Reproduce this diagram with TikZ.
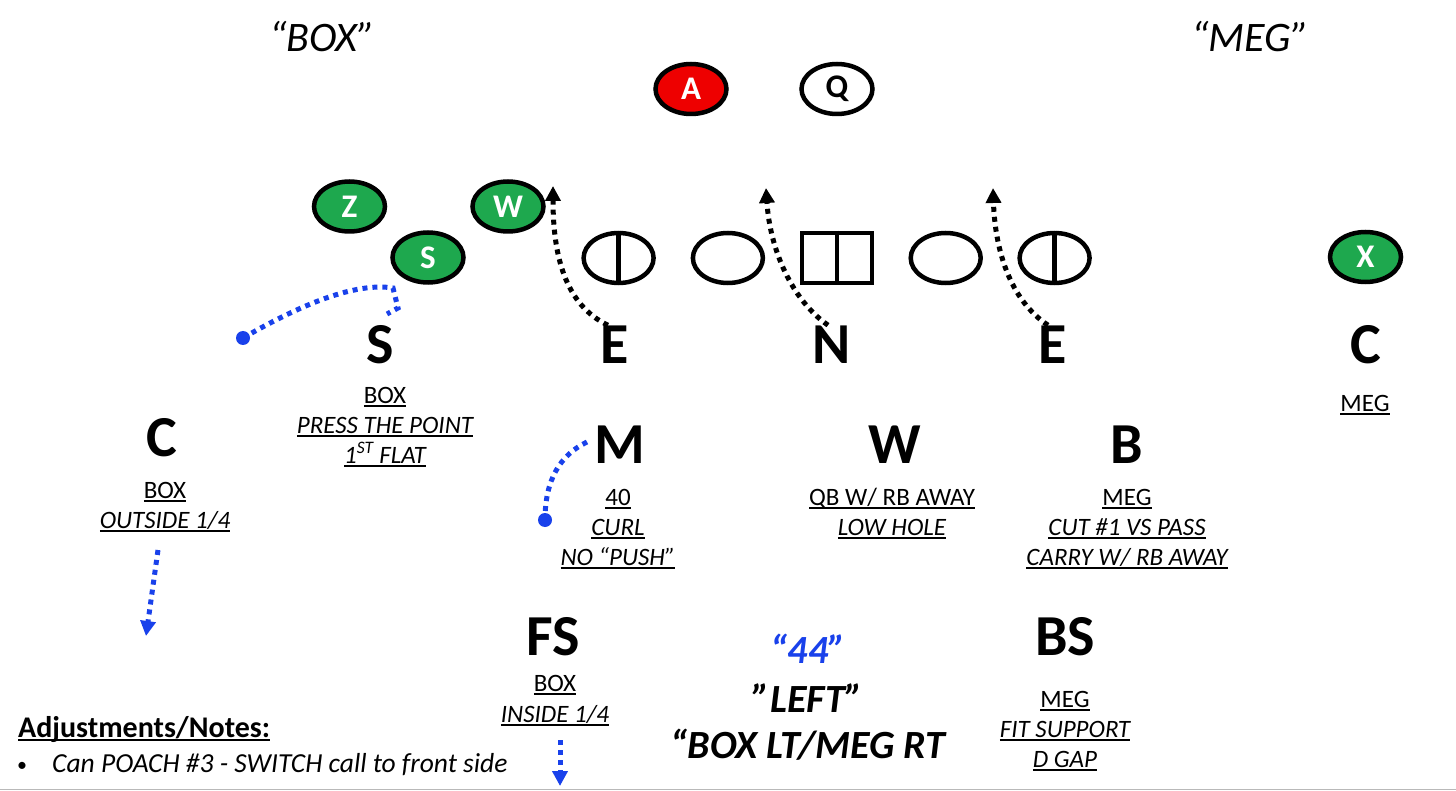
\documentclass[tikz,border=0pt]{standalone}
\usepackage{fontspec}
\setmainfont{Carlito}
\usetikzlibrary{arrows.meta,shapes.geometric}
\definecolor{pgreen}{RGB}{30,168,78}
\definecolor{pred}{RGB}{238,0,0}
\definecolor{pblue}{RGB}{25,65,235}
\newcommand{\ulx}[1]{\setbox0\hbox{#1}\rlap{\rule[-3.5pt]{\wd0}{1.3pt}}\box0}
\tikzset{
  player/.style={ellipse, draw=black, line width=4.5pt, minimum width=71pt, minimum height=50pt, inner sep=0pt, font=\fontsize{33}{33}\selectfont\bfseries, text=white, fill=pgreen},
  olm/.style={ellipse, draw=black, line width=4.5pt, minimum width=70pt, minimum height=50pt, inner sep=0pt},
  olsq/.style={rectangle, draw=black, line width=4.5pt, minimum width=70pt, minimum height=50pt, inner sep=0pt},
  big/.style={font=\fontsize{58}{58}\selectfont\bfseries, inner sep=0pt, anchor=base},
  lbl/.style={font=\fontsize{25}{25}\selectfont, inner sep=0pt, anchor=base},
  title/.style={font=\fontsize{42}{42}\selectfont\itshape, inner sep=0pt, anchor=base},
  call/.style={font=\fontsize{40}{40}\selectfont\bfseries\itshape, inner sep=0pt, anchor=base},
  droute/.style={line width=5pt, dash pattern=on 5pt off 5pt, draw=black},
  broute/.style={line width=5pt, dash pattern=on 5pt off 5pt, draw=pblue},
  tipk/.style={-{Triangle[length=15pt,width=15pt]}},
  bdot/.style={circle, fill=pblue, minimum size=14pt, inner sep=0pt},
}
\begin{document}
\begin{tikzpicture}[x=1pt,y=-1pt]
\useasboundingbox (0,0) rectangle (1456,791);
\fill[white] (0,0) rectangle (1456,791);
\draw[gray!55, line width=1.5pt] (0,789.5) -- (1456,789.5);

% titles
\node[title] (tbox) at (322,52) {“BOX”};
\node[title] (tmeg) at (1250,52) {“MEG”};

% backfield
\node[player, fill=pred] (pA) at (691,89) {A};
\node[player, fill=white, text=black] (pQ) at (837,89) {Q};

% receivers
\node[player] (pZ) at (349.5,206.5) {Z};
\node[player] (pW) at (508,206.5) {W};
\node[player] (pS) at (428,257.5) {S};
\node[player] (pX) at (1365.5,257) {X};

% offensive line
\node[olm] (lt) at (618.6,258) {};
\draw[line width=4.5pt] (lt.north) -- (lt.south);
\node[olm] (lg) at (727.9,258) {};
\node[olsq] (oc) at (836.8,258) {};
\draw[line width=4.5pt] (oc.north) -- (oc.south);
\node[olm] (rg) at (945.7,258) {};
\node[olm] (rt) at (1054.6,258) {};
\draw[line width=4.5pt] (rt.north) -- (rt.south);

% defensive front
\node[big] (dS) at (380,363) {S};
\node[big] (dE1) at (615,363) {E};
\node[big] (dN) at (832,363) {N};
\node[big] (dE2) at (1053,363) {E};
\node[big] (dC2) at (1366,363) {C};

\node[lbl] (s1) at (385,403) {\ulx{BOX}};
\node[lbl] (s2) at (385,433) {\itshape\ulx{PRESS THE POINT}};
\node[lbl] (s3) at (385,463) {\itshape\ulx{1\textsuperscript{ST} FLAT}};
\node[lbl] (c2a) at (1365,411) {\ulx{MEG}};

% second level
\node[big] (dC1) at (162,456) {C};
\node[lbl] (c1a) at (165,498) {\ulx{BOX}};
\node[lbl] (c1b) at (165,528) {\itshape\ulx{OUTSIDE 1/4}};

\node[big] (dM) at (620,463) {M};
\node[lbl] (m1) at (618,505) {\ulx{40}};
\node[lbl] (m2) at (618,535) {\itshape\ulx{CURL}};
\node[lbl] (m3) at (618,565) {\itshape\ulx{NO “PUSH”}};

\node[big] (dW) at (895,463) {W};
\node[lbl] (w1) at (892,505) {\ulx{QB W/ RB AWAY}};
\node[lbl] (w2) at (892,535) {\itshape\ulx{LOW HOLE}};

\node[big] (dB) at (1127,463) {B};
\node[lbl] (b1) at (1127,505) {\ulx{MEG}};
\node[lbl] (b2) at (1127,535) {\itshape\ulx{CUT \#1 VS PASS}};
\node[lbl] (b3) at (1127,565) {\itshape\ulx{CARRY W/ RB AWAY}};

% safeties
\node[big] (dFS) at (553,655) {FS};
\node[lbl] (f1) at (555,691) {\ulx{BOX}};
\node[lbl] (f2) at (555,722) {\itshape\ulx{INSIDE 1/4}};

\node[big] (dBS) at (1065,655) {BS};
\node[lbl] (bs1) at (1065,707) {\ulx{MEG}};
\node[lbl] (bs2) at (1065,737) {\itshape\ulx{FIT SUPPORT}};
\node[lbl] (bs3) at (1065,767) {\itshape\ulx{D GAP}};

% call
\node[call, text=pblue] (k1) at (808,663) {“44”};
\node[call] (k2) at (808,712) {”LEFT”};
\node[call] (k3) at (808,758) {“BOX LT/MEG RT};

% notes
\node[font=\fontsize{30}{30}\selectfont\bfseries, inner sep=0pt, anchor=base west] (adj) at (18,737) {\ulx{Adjustments/Notes:}};
\node[font=\fontsize{20}{20}\selectfont, inner sep=0pt, anchor=base west] (bul) at (17,771) {•};
\node[font=\fontsize{27.5}{27.5}\selectfont\itshape, inner sep=0pt, anchor=base west] (note) at (52,772) {Can POACH \#3 - SWITCH call to front side};

% black rush routes
\coordinate (tE1) at (553,186);
\coordinate (tN) at (766,188);
\coordinate (tE2) at (993,188);
\draw[droute, tipk] ([xshift=-7pt]dE1.north) .. controls (565,305) and (553,255) .. (tE1);
\draw[droute, tipk] ([xshift=-4pt]dN.north) .. controls (792,300) and (770,250) .. (tN);
\draw[droute, tipk] ([xshift=-5pt]dE2.north) .. controls (1010,300) and (995,250) .. (tE2);

% blue coverage routes
\node[bdot] (dotS) at (243,338) {};
\coordinate (hS1) at (393,288);
\coordinate (hS2) at (398,308);
\coordinate (hS3) at (387,314);
\draw[broute] (dotS.center) .. controls (300,305) and (355,282) .. (hS1) -- (hS2) -- (hS3);

\node[bdot] (dotM) at (545,520) {};
\coordinate (mS) at (587,442);
\draw[broute] (mS) .. controls (560,455) and (545,480) .. (dotM.center);

\coordinate (cS) at (158,550);
\coordinate (cE) at (146,636);
\draw[broute, tipk, pblue] (cS) -- (cE);

\coordinate (fS) at (560,740);
\coordinate (fE) at (560,786);
\draw[broute, tipk, pblue] (fS) -- (fE);
\end{tikzpicture}
\end{document}
